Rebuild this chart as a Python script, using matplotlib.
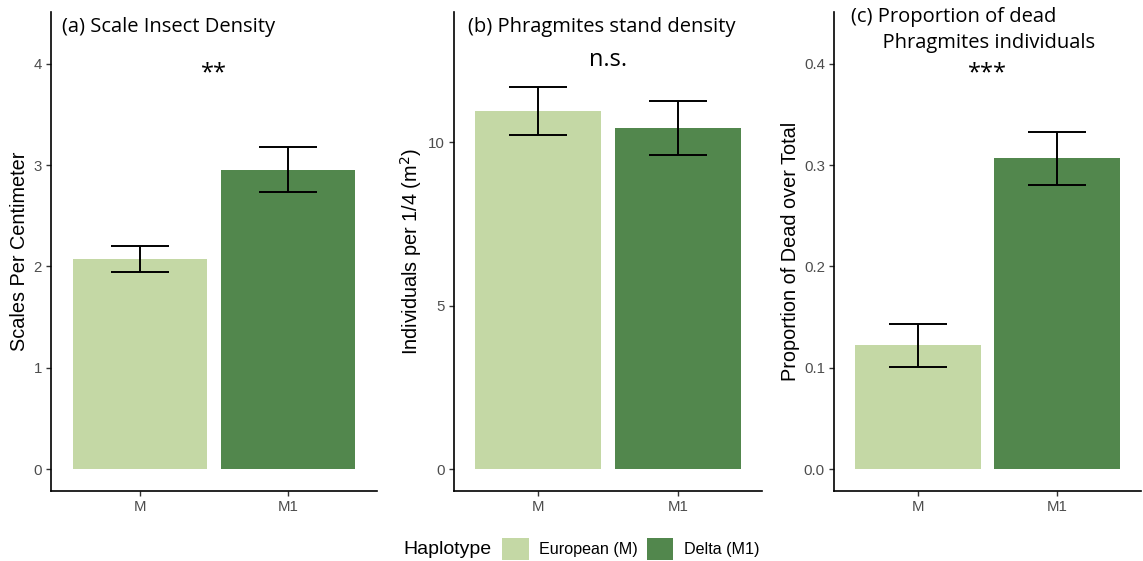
import numpy as np
import matplotlib
matplotlib.use('Agg')
import matplotlib.pyplot as plt
from matplotlib.patches import Patch

# data
haplotypes = ['M', 'M1']
legend_labels = ['European (M)', 'Delta (M1)']

scale_mean = [2.07, 2.95]
scale_lo = [1.94, 2.73]
scale_hi = [2.20, 3.18]

stand_mean = [10.95, 10.43]
stand_lo = [10.21, 9.60]
stand_hi = [11.68, 11.25]

dead_mean = [0.122, 0.307]
dead_lo = [0.101, 0.280]
dead_hi = [0.143, 0.333]

colors = ['#c4d8a5', '#52874d']
title_font = 'Open Sans'
tick_font = 'Liberation Sans'

panels = [
    dict(mean=scale_mean, lo=scale_lo, hi=scale_hi,
         title='(a) Scale Insect Density', ty=0.99, ylabel='Scales Per Centimeter',
         sig='**', sig_y=3.9, ylim=(-0.217, 4.51),
         yticks=[0, 1, 2, 3, 4], fmt='{:g}', pos=[51, 377], tx=0.034),
    dict(mean=stand_mean, lo=stand_lo, hi=stand_hi,
         title='(b) Phragmites stand density', ty=0.99,
         ylabel='Individuals per 1/4 (m$^2$)',
         sig='n.s.', sig_y=12.5, ylim=(-0.67, 13.98),
         yticks=[0, 5, 10], fmt='{:g}', pos=[454, 762], tx=0.045),
    dict(mean=dead_mean, lo=dead_lo, hi=dead_hi,
         title='(c) Proportion of dead\n      Phragmites individuals', ty=1.01,
         ylabel='Proportion of Dead over Total',
         sig='***', sig_y=0.39, ylim=(-0.0217, 0.451),
         yticks=[0, 0.1, 0.2, 0.3, 0.4], fmt='{:.1f}', pos=[834, 1141], tx=0.055),
]

W, H = 1143, 561
fig = plt.figure(figsize=(W / 100, H / 100), dpi=100)
top, bottom = 12, 491

for p in panels:
    l, r = p['pos']
    ax = fig.add_axes([l / W, 1 - bottom / H, (r - l) / W, (bottom - top) / H])
    x = np.arange(len(haplotypes)) + 1
    mean = np.array(p['mean'])
    yerr = [mean - np.array(p['lo']), np.array(p['hi']) - mean]
    ax.bar(x, mean, width=0.9, color=colors)
    ax.errorbar(x, mean, yerr=yerr, fmt='none', ecolor='black',
                elinewidth=1.4, capsize=21, capthick=1.4)
    ax.set_xlim(0.4, 2.6)
    ax.set_ylim(*p['ylim'])
    ax.set_xticks(x)
    ax.set_xticklabels(haplotypes, fontfamily=tick_font, fontsize=10.8, color='#4d4d4d')
    ax.set_yticks(p['yticks'])
    ax.set_yticklabels([p['fmt'].format(v) for v in p['yticks']],
                       fontfamily=tick_font, fontsize=10.8, color='#4d4d4d')
    ax.tick_params(length=3.5, width=1.0, color='#333333', pad=3)
    for s in ['top', 'right']:
        ax.spines[s].set_visible(False)
    for s in ['left', 'bottom']:
        ax.spines[s].set_linewidth(1.2)
    ax.set_ylabel(p['ylabel'], fontfamily=tick_font, fontsize=14.3, labelpad=3)
    ax.text(p['tx'], p['ty'], p['title'], transform=ax.transAxes, ha='left', va='top',
            fontfamily=title_font, fontsize=14.5, linespacing=1.4)
    ax.text(1.5, p['sig_y'], p['sig'], ha='center', va='center',
            fontfamily=title_font, fontsize=17)

# legend at the bottom, title on the left
fig.text(403 / W, 1 - 549 / H, 'Haplotype', ha='left', va='center',
         fontfamily=tick_font, fontsize=14)
handles = [Patch(facecolor=c, label=lab) for c, lab in zip(colors, legend_labels)]
fig.legend(handles=handles, loc='center left', ncol=2, frameon=False,
           bbox_to_anchor=(502 / W, 1 - 549 / H), borderpad=0, borderaxespad=0,
           prop={'family': tick_font, 'size': 11.6},
           handlelength=1.65, handleheight=1.65, handletextpad=0.65,
           columnspacing=0.55)

fig.savefig('out.png', dpi=100)
